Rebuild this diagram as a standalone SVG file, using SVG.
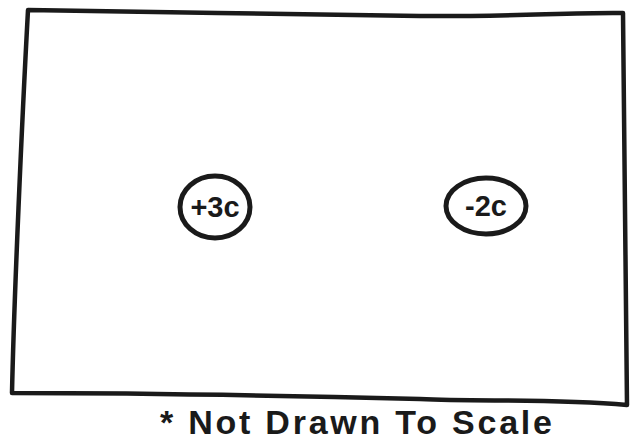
<svg xmlns="http://www.w3.org/2000/svg" width="632" height="442" viewBox="0 0 632 442">
<style>
.ink{fill:none;stroke:#1a1a1a;stroke-width:4.5;stroke-linecap:round;stroke-linejoin:round}
.ring{stroke-width:5}
.lbl{font-family:"Liberation Sans",Arial,sans-serif;font-weight:bold;fill:#1a1a1a}
</style>
<rect width="632" height="442" fill="#fff"/>
<g id="box">
<path class="ink" d="M28,10 C150,12 300,14 420,16 C500,17 580,12 623,13 C624,120 626,250 627,405 C550,398 480,402 420,399 C300,396 150,393 12,393 C14,300 22,120 28,10 Z"/>
</g>
<g id="charge1">
<ellipse class="ink ring" cx="215" cy="207" rx="35" ry="31"/>
<text class="lbl" x="215" y="217" font-size="29" text-anchor="middle">+3c</text>
</g>
<g id="charge2">
<ellipse class="ink ring" cx="486" cy="206" rx="40" ry="28"/>
<text class="lbl" x="486" y="216" font-size="29" text-anchor="middle">-2c</text>
</g>
<g id="note">
<text class="lbl" x="160" y="434" font-size="34" textLength="392" lengthAdjust="spacing">* Not Drawn To Scale</text>
</g>
</svg>
